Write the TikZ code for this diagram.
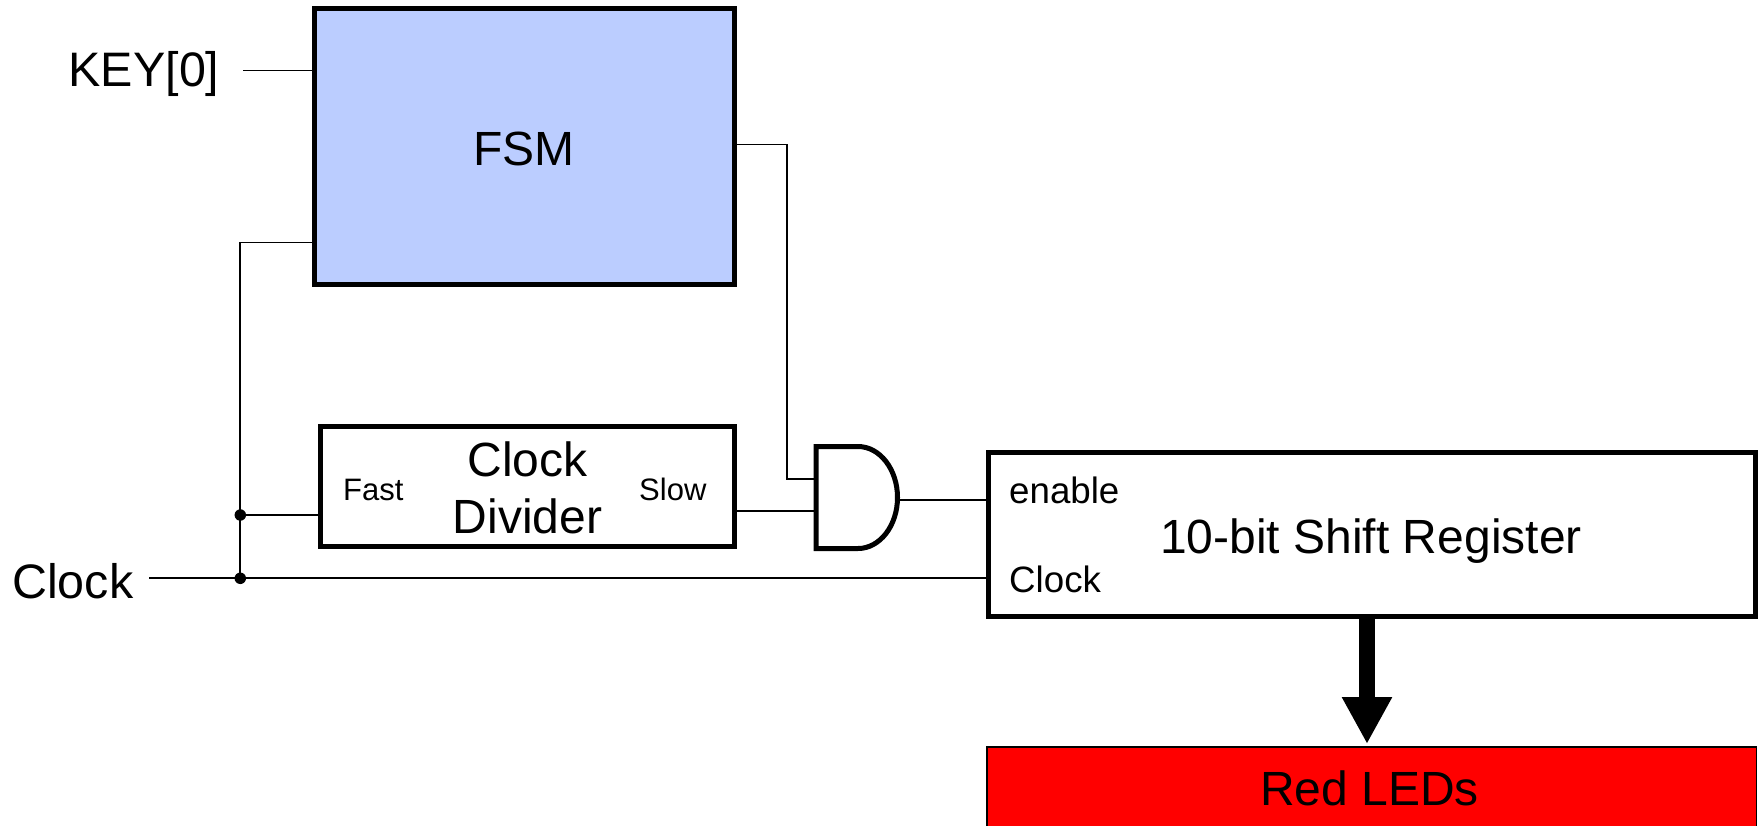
\documentclass[tikz,border=0pt]{standalone}
\usepackage{fontspec}
\setmainfont{Liberation Sans}
\usetikzlibrary{arrows.meta}
\definecolor{fsmblue}{RGB}{187,205,255}
\tikzset{
  box/.style={draw=black,line width=5pt,inner sep=0pt,rectangle},
  wire/.style={draw=black,line width=1.9pt,line join=miter},
  biglabel/.style={anchor=base west,inner sep=0pt,font=\fontsize{48.4}{57}\selectfont},
  title/.style={anchor=base,inner sep=0pt,font=\fontsize{48}{57}\selectfont},
  smalllabel/.style={anchor=base west,inner sep=0pt,font=\fontsize{36.7}{44}\selectfont},
  tinylabel/.style={anchor=base west,inner sep=0pt,font=\fontsize{31}{37}\selectfont},
  junction/.style={circle,fill=black,inner sep=0pt,minimum size=11.5pt},
  gatebody/.style={draw=black,line width=5pt,line join=miter}
}
\begin{document}
\begin{tikzpicture}[x=1pt,y=-1pt]
\clip (0,0) rectangle (1762,825);
\fill[white] (0,0) rectangle (1762,825);
% blocks
\node[box,fill=fsmblue,minimum width=420pt,minimum height=276pt] (fsm) at (524,146.5) {};
\node[box,minimum width=414pt,minimum height=120pt] (div) at (527,486.5) {};
\node[box,minimum width=766.5pt,minimum height=164pt] (reg) at (1371.75,534.5) {};
\node[draw=black,line width=1.8pt,fill=red,inner sep=0pt,minimum width=769.5pt,minimum height=160pt] (leds) at (1371.7,826.7) {};
\node[inner sep=0pt,outer sep=0pt,minimum width=81.5pt,minimum height=102pt] (gate) at (856.75,497.5) {};
\draw[gatebody] (gate.south west) -- (gate.north west) -- (858,446.5)
  arc[start angle=90,end angle=-90,x radius=39.5pt,y radius=51pt] -- cycle;
% block titles
\node[title] (fsmtitle) at (524,165.5) {FSM};
\node[title] (divtitle1) at (527.5,476) {Clock};
\node[title] (divtitle2) at (527.5,533) {Divider};
\node[title] (regtitle) at (1371,553.5) {10-bit Shift Register};
\node[title] (ledtext) at (1369.5,805) {Red LEDs};
% labels
\node[biglabel] (keylabel) at (68.5,86.7) {KEY[0]};
\node[biglabel] (clocklabel) at (12,598) {Clock};
\node[tinylabel] (fast) at (343,500.7) {Fast};
\node[tinylabel] (slow) at (639,500.7) {Slow};
\node[smalllabel] (enable) at (1009,503.4) {enable};
\node[smalllabel] (regclock) at (1009,592.4) {Clock};
% wire coordinates
\coordinate (keyend) at (243,70.5);
\coordinate (clkend) at (149,578.3);
\coordinate (busx) at (240.3,242.5);
\coordinate (fsmout) at (786.7,144.5);
\coordinate (andtop) at (786.7,478.7);
\coordinate (slowlevel) at (734,511.3);
\coordinate (enlevel) at (897.5,500);
\coordinate (fastlevel) at (240.3,515);
\coordinate (arrowx) at (1367,744);
% wires
\draw[wire] (keyend) -- (keyend -| fsm.west);
\draw[wire] (busx -| fsm.west) -- (busx) -- (clkend -| busx);
\draw[wire] (clkend) -- (clkend -| reg.west);
\draw[wire] (fastlevel) -- (fastlevel -| div.west);
\draw[wire] (fsmout -| fsm.east) -- (fsmout) -- (andtop) -- (andtop -| gate.west);
\draw[wire] (slowlevel -| div.east) -- (slowlevel -| gate.west);
\draw[wire] (enlevel) -- (enlevel -| reg.west);
\node[junction] (j1) at (fastlevel) {};
\node[junction] (j2) at (clkend -| busx) {};
% bus arrow
\draw[line width=15.5pt,-{Triangle[length=47pt,width=47pt]}] (arrowx |- reg.south) -- (arrowx);
\end{tikzpicture}
\end{document}
